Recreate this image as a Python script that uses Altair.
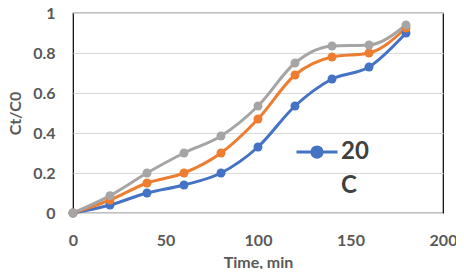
import altair as alt
import pandas as pd

times = [0, 20, 40, 60, 80, 100, 120, 140, 160, 180]
s20 = [0, 0.04, 0.10, 0.14, 0.20, 0.33, 0.535, 0.67, 0.73, 0.90]
s30 = [0, 0.065, 0.15, 0.20, 0.30, 0.47, 0.69, 0.78, 0.80, 0.925]
s40 = [0, 0.087, 0.20, 0.30, 0.385, 0.535, 0.75, 0.835, 0.84, 0.94]
series_names = ["20 C", "30 C", "40 C"]
colors = ["#4472C4", "#ED7D31", "#A5A5A5"]
x_ticks = [0, 50, 100, 150, 200]
y_ticks = [0, 0.2, 0.4, 0.6, 0.8, 1]

rows = []
for name, vals in zip(series_names, [s20, s30, s40]):
    for t, v in zip(times, vals):
        rows.append({"series": name, "time": t, "ratio": v})
df = pd.DataFrame(rows)

FONT = "Lato"
GREY = "#595959"

legend = alt.Legend(
    title=None,
    values=["20 C"],
    orient="none",
    legendX=222,
    legendY=117,
    symbolType="M-1,0H-0.25A0.25,0.25 0 1,1 0.25,0H1M0.25,0A0.25,0.25 0 1,1 -0.25,0",
    symbolSize=1681,
    symbolStrokeWidth=3,
    symbolFillColor="#4472C4",
    symbolStrokeColor="#4472C4",
    labelExpr="['20', 'C']",
    labelFont=FONT,
    labelFontSize=24,
    labelFontWeight="bold",
    labelColor="#404040",
    labelOffset=2,
    labelLimit=200,
)

chart = (
    alt.Chart(df)
    .mark_line(
        interpolate="monotone",
        strokeWidth=3,
        point=alt.OverlayMarkDef(filled=True, size=80),
    )
    .encode(
        x=alt.X(
            "time:Q",
            scale=alt.Scale(domain=[0, 200], nice=False),
            axis=alt.Axis(
                values=x_ticks,
                title="Time, min",
                grid=False,
                domain=False,
                ticks=False,
                labelFlush=False,
                labelPadding=19,
                titlePadding=6,
            ),
        ),
        y=alt.Y(
            "ratio:Q",
            scale=alt.Scale(domain=[0, 1], nice=False),
            axis=alt.Axis(
                values=y_ticks,
                format="~g",
                title="Ct/C0",
                grid=True,
                gridColor="#d9d9d9",
                gridWidth=1,
                domain=False,
                ticks=False,
                labelFlush=False,
                labelPadding=18,
                titlePadding=9,
            ),
        ),
        color=alt.Color(
            "series:N",
            scale=alt.Scale(domain=series_names, range=colors),
            legend=legend,
        ),
    )
    .properties(
        width=370,
        height=200,
        autosize=alt.AutoSizeParams(type="none"),
        padding={"left": 65, "top": 5, "right": 13, "bottom": 56},
    )
    .configure(style={"guide-label": {"lineHeight": 34}})
    .configure_view(stroke="black", strokeWidth=1.2)
    .configure_axis(
        labelFont=FONT,
        labelFontSize=16,
        labelFontWeight="bold",
        labelColor=GREY,
        titleFont=FONT,
        titleFontSize=16,
        titleFontWeight="bold",
        titleColor=GREY,
    )
)

chart.save("out.html", embed_options={"renderer": "svg", "actions": False})
